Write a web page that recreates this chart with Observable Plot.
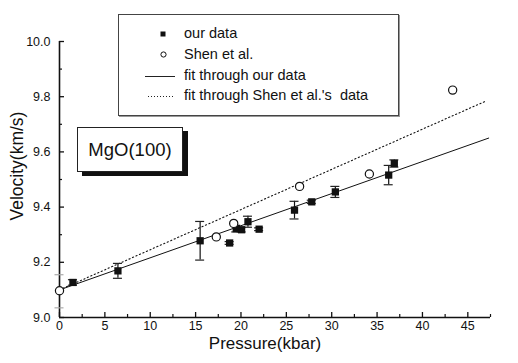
<!DOCTYPE html>
<html>
<head>
<meta charset="utf-8">
<script src="https://cdn.jsdelivr.net/npm/d3@7"></script>
<script src="https://cdn.jsdelivr.net/npm/@observablehq/plot@0.6"></script>
<style>
  html, body { margin: 0; padding: 0; background: #fff; }
  #wrap { position: relative; width: 518px; height: 363px; font-family: "Liberation Sans", Arial, sans-serif; color: #111; }
  #wrap svg { display: block; }
  .legend { position: absolute; left: 118px; top: 14px; width: 279px; height: 100px; border: 1px solid #444; background: #fff; box-shadow: 1px 1px 0 #999; }
  .legend .txt { position: absolute; left: 65px; font-size: 14.5px; white-space: pre; transform: translateY(-50%); line-height: 1; }
  .legend svg { position: absolute; left: 0; top: 0; }
  .mgo { position: absolute; left: 77px; top: 127px; width: 104px; height: 43px; border: 1px solid #222; background: #fff; box-shadow: 5px 4px 0 #111; font-size: 18.5px; display: flex; align-items: center; justify-content: center; }
  .ylab { position: absolute; left: 17px; top: 166px; transform: translate(-50%, -50%) rotate(-90deg); font-size: 17.5px; white-space: nowrap; }
  .xlab { position: absolute; left: 265px; top: 344px; transform: translate(-50%, -50%); font-size: 17px; white-space: nowrap; }
</style>
</head>
<body>
<div id="wrap"></div>
<script>
// ---- data ----
const ourP   = [1.48, 6.44, 15.5, 18.75, 19.48, 20.07, 20.77, 22.0, 25.9, 27.8, 30.4, 36.28, 36.9];
const ourV   = [9.127, 9.169, 9.278, 9.270, 9.322, 9.318, 9.347, 9.320, 9.389, 9.419, 9.455, 9.516, 9.558];
const ourErr = [0.010, 0.027, 0.070, 0.005, 0.012, 0.008, 0.020, 0.005, 0.032, 0.006, 0.020, 0.035, 0.013];
// zero-pressure reference error bar (only its faint caps are visible)
const zeroP = [0], zeroV = [9.095], zeroErr = [0.06];
const shenP = [0, 17.28, 19.2, 26.46, 34.15, 43.33];
const shenV = [9.097, 9.292, 9.341, 9.475, 9.520, 9.824];
// linear fits (intercept, slope per kbar) and drawn pressure range
const fitOursIntercept = 9.10, fitOursSlope = 0.01163;
const fitShenIntercept = 9.10, fitShenSlope = 0.01456;
const fitRangeOurs = [0, 47.3];
const fitRangeShen = [0, 47.05];
const xMajor = [0, 5, 10, 15, 20, 25, 30, 35, 40, 45];
const xMinor = [2.5, 7.5, 12.5, 17.5, 22.5, 27.5, 32.5, 37.5, 42.5, 47.5];
const yMajor = [9.0, 9.2, 9.4, 9.6, 9.8, 10.0];
const yMinor = [9.1, 9.3, 9.5, 9.7, 9.9];

const ours = ourP.map((p, i) => ({p, v: ourV[i], e: ourErr[i]}));
const zero = zeroP.map((p, i) => ({p, v: zeroV[i], e: zeroErr[i]}));
const shen = shenP.map((p, i) => ({p, v: shenV[i]}));
const fitOurs = fitRangeOurs.map(p => ({p, v: fitOursIntercept + fitOursSlope * p}));
const fitShen = fitRangeShen.map(p => ({p, v: fitShenIntercept + fitShenSlope * p}));

const chart = Plot.plot({
  width: 518,
  height: 363,
  marginLeft: 59,
  marginRight: 28,
  marginTop: 41,
  marginBottom: 46,
  style: {fontFamily: "'Liberation Sans', Arial, sans-serif", fontSize: "12.5px", background: "white", color: "#111"},
  x: {domain: [0, 47.5]},
  y: {domain: [9.0, 10.0]},
  marks: [
    Plot.axisX({ticks: xMajor, tickSize: -5, tickPadding: 9, tickFormat: d => d, label: null, strokeWidth: 1.3}),
    Plot.axisX({ticks: xMinor, tickSize: -3, tickPadding: 9, tickFormat: () => "", label: null, strokeWidth: 1.2}),
    Plot.axisY({ticks: yMajor, tickSize: -5, tickPadding: 14, tickFormat: d3.format(".1f"), label: null, strokeWidth: 1.3}),
    Plot.axisY({ticks: yMinor, tickSize: -3, tickPadding: 14, tickFormat: () => "", label: null, strokeWidth: 1.2}),
    Plot.ruleY([9.0], {stroke: "#111", strokeWidth: 1.6}),
    Plot.ruleX([0], {stroke: "#111", strokeWidth: 1.6}),
    // fits
    Plot.line(fitOurs, {x: "p", y: "v", stroke: "#111", strokeWidth: 1}),
    Plot.line(fitShen, {x: "p", y: "v", stroke: "#111", strokeWidth: 1.1, strokeDasharray: "1.2,2.6"}),
    // zero-pressure error caps (faint)
    Plot.ruleY(zero, {x1: "p", x2: "p", y: d => d.v + d.e, insetLeft: -4.5, insetRight: -4.5, stroke: "#aaa", strokeWidth: 1.2}),
    Plot.ruleY(zero, {x1: "p", x2: "p", y: d => d.v - d.e, insetLeft: -4.5, insetRight: -4.5, stroke: "#aaa", strokeWidth: 1.2}),
    // error bars
    Plot.ruleX(ours, {x: "p", y1: d => d.v - d.e, y2: d => d.v + d.e, stroke: "#111", strokeWidth: 1.2}),
    Plot.ruleY(ours, {x1: "p", x2: "p", y: d => d.v + d.e, insetLeft: -4.5, insetRight: -4.5, stroke: "#222", strokeWidth: 1.2}),
    Plot.ruleY(ours, {x1: "p", x2: "p", y: d => d.v - d.e, insetLeft: -4.5, insetRight: -4.5, stroke: "#222", strokeWidth: 1.2}),
    // points
    Plot.dot(ours, {x: "p", y: "v", symbol: "square", r: 4.1, fill: "#111", stroke: "none"}),
    Plot.dot(shen, {x: "p", y: "v", symbol: "circle", r: 4.1, fill: "white", stroke: "#111", strokeWidth: 1.2})
  ]
});

const wrap = document.getElementById("wrap");
wrap.appendChild(chart);

// legend box
const legend = document.createElement("div");
legend.className = "legend";
legend.innerHTML = `
  <svg width="279" height="100">
    <rect x="41.5" y="16.5" width="5" height="5" fill="#111"/>
    <circle cx="44.5" cy="39.5" r="2.6" fill="none" stroke="#111" stroke-width="1"/>
    <line x1="26" x2="56" y1="61.5" y2="61.5" stroke="#222" stroke-width="1"/>
    <line x1="29" x2="56" y1="81.5" y2="81.5" stroke="#222" stroke-width="1" stroke-dasharray="1,2"/>
  </svg>
  <div class="txt" style="top:18px">our data</div>
  <div class="txt" style="top:39px">Shen et al.</div>
  <div class="txt" style="top:60px">fit through our data</div>
  <div class="txt" style="top:80px">fit through Shen et al.'s  data</div>`;
wrap.appendChild(legend);

const mgo = document.createElement("div");
mgo.className = "mgo";
mgo.textContent = "MgO(100)";
wrap.appendChild(mgo);

const ylab = document.createElement("div");
ylab.className = "ylab";
ylab.textContent = "Velocity(km/s)";
wrap.appendChild(ylab);

const xlab = document.createElement("div");
xlab.className = "xlab";
xlab.textContent = "Pressure(kbar)";
wrap.appendChild(xlab);
</script>
</body>
</html>
